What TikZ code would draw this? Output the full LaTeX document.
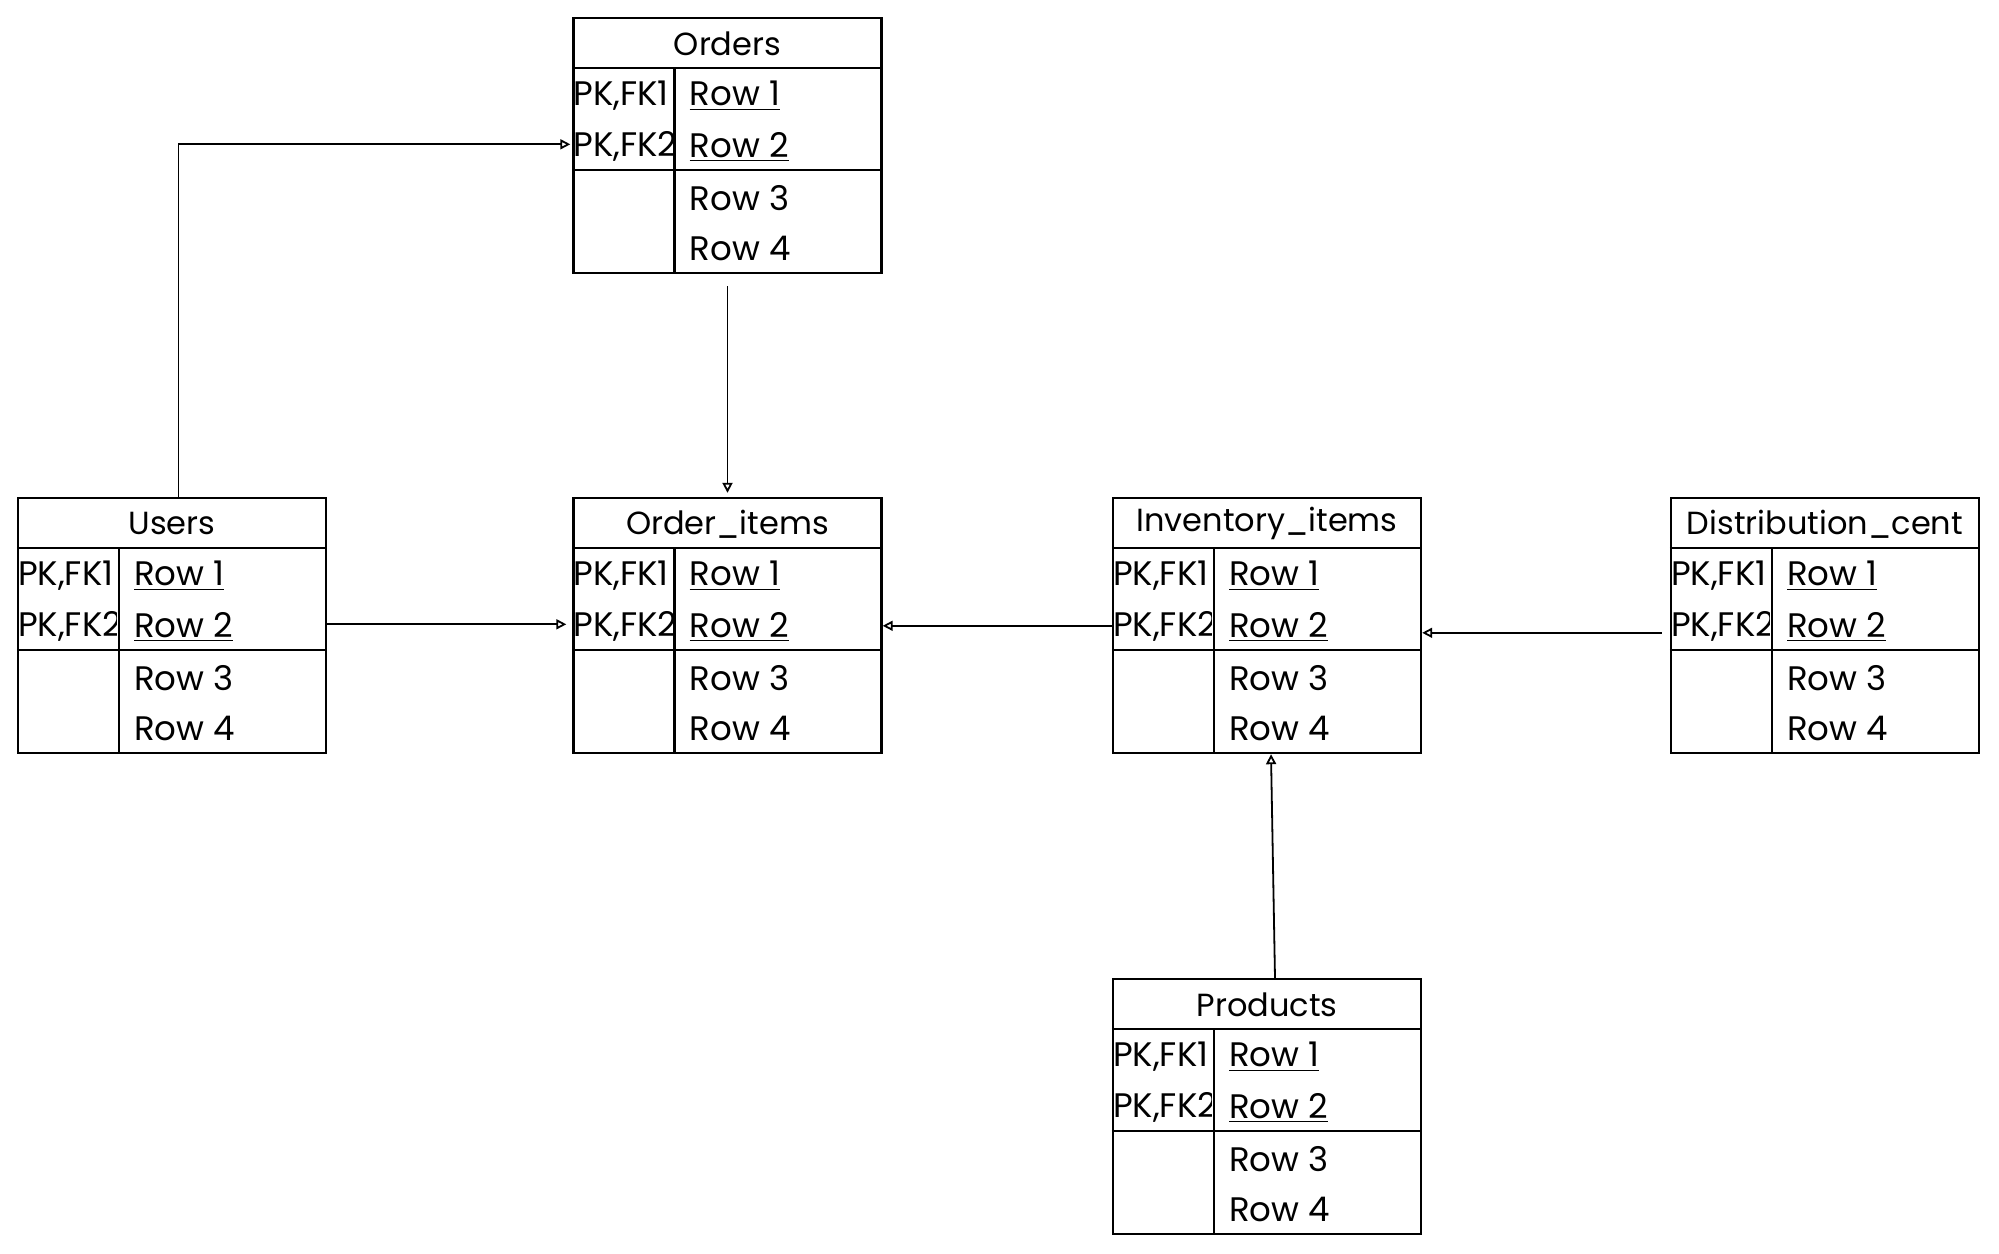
\documentclass[tikz,border=0pt]{standalone}
\usepackage{fontspec}
\setmainfont{Poppins}
\usetikzlibrary{arrows.meta}

\tikzset{
  tablebox/.style={draw, line width=1.2pt, minimum width=154pt, minimum height=127.5pt, inner sep=0pt},
  title/.style={font=\fontsize{16}{19}\selectfont},
  keytext/.style={font=\fontsize{17}{20}\selectfont, anchor=west, inner sep=0pt},
  rowtext/.style={font=\fontsize{17}{20}\selectfont, anchor=west, inner sep=0pt},
  fk/.style={line width=0.9pt, -{Triangle[open,length=5pt,width=5pt]}},
}

% one table: name, centre, title
\newcommand{\erdtable}[3]{
  \node[tablebox] (#1) at (#2) {};
  \node[title] (#1-title) at ([yshift=-13.5pt]#1.north) {#3};
  \draw[line width=1.2pt] ([yshift=-25.5pt]#1.north west) -- ([yshift=-25.5pt]#1.north east);
  \draw[line width=1.2pt] ([yshift=-76.5pt]#1.north west) -- ([yshift=-76.5pt]#1.north east);
  \draw[line width=1.2pt] ([xshift=51pt,yshift=-25.5pt]#1.north west) -- ([xshift=51pt]#1.south west);
  \begin{scope}
    \clip ([yshift=-25.5pt]#1.north west) rectangle ([xshift=50pt,yshift=-76.5pt]#1.north west);
    \node[keytext] (#1-k1) at ([xshift=0.5pt,yshift=-39.5pt]#1.north west) {PK,FK1};
    \node[keytext] (#1-k2) at ([xshift=0.5pt,yshift=-65pt]#1.north west) {PK,FK2};
  \end{scope}
  \node[rowtext] (#1-r1) at ([xshift=58.5pt,yshift=-39.5pt]#1.north west) {\underline{Row 1}};
  \node[rowtext] (#1-r2) at ([xshift=58.5pt,yshift=-65pt]#1.north west) {\underline{Row 2}};
  \node[rowtext] (#1-r3) at ([xshift=58.5pt,yshift=-90.5pt]#1.north west) {Row 3};
  \node[rowtext] (#1-r4) at ([xshift=58.5pt,yshift=-116pt]#1.north west) {Row 4};
}

\begin{document}
\begin{tikzpicture}[x=0.5pt, y=-0.5pt]
  \useasboundingbox (0,0) rectangle (1999,1254);

  \erdtable{orders}{727.5,145.5}{Orders}
  \erdtable{users}{172,625.5}{Users}
  \erdtable{orderitems}{727.5,625.5}{Order\_items}
  \erdtable{inventory}{1267,625.5}{Inventory\_items}
  \erdtable{distcent}{1825,625.5}{Distribution\_cent}
  \erdtable{products}{1267,1106.5}{Products}

  \draw[fk] ([xshift=3.25pt]users.north) |- ([xshift=-1pt,yshift=-63.75pt]orders.north west);
  \draw[fk] ([yshift=-6pt]orders.south) -- ([yshift=2pt]orderitems.north);
  \draw[fk] ([yshift=-63.75pt]users.north east) -- ([xshift=-3pt,yshift=-63.75pt]orderitems.north west);
  \draw[fk] ([yshift=-64.5pt]inventory.north west) -- ([yshift=-64.5pt]orderitems.north east);
  \draw[fk] ([xshift=-4pt,yshift=-68pt]distcent.north west) -- ([yshift=-68pt]inventory.north east);
  \draw[fk] ([xshift=4pt]products.north) -- ([xshift=2pt]inventory.south);
\end{tikzpicture}
\end{document}
